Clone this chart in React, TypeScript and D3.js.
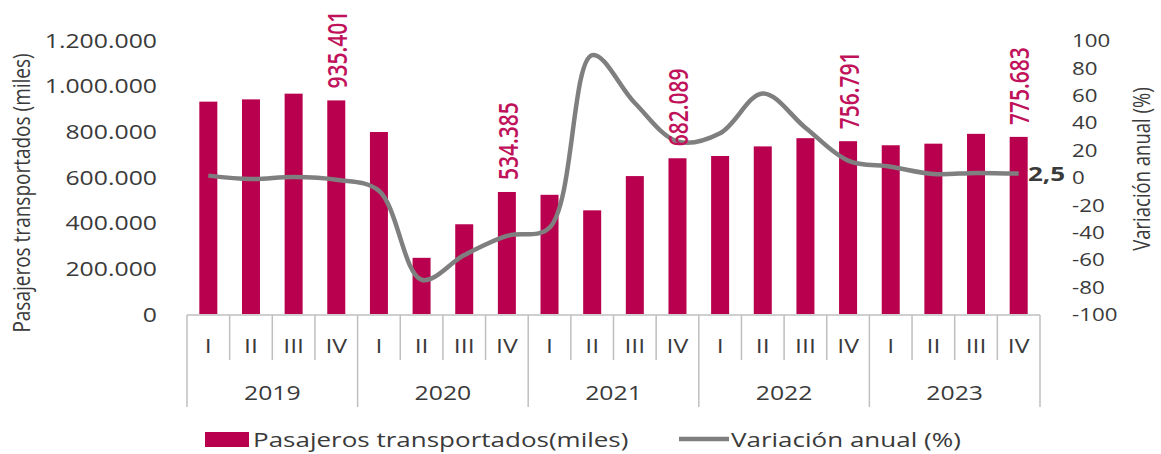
import * as d3 from "d3";
import React from "react";

const years = ["2019", "2020", "2021", "2022", "2023"];
const quarters = ["I", "II", "III", "IV"];
const pasajeros = [
  930000, 940000, 965000, 935401,
  797000, 246000, 393000, 534385,
  522000, 454000, 604000, 682089,
  692000, 734000, 770000, 756791,
  739000, 746000, 789000, 775683,
];
const variacion = [
  1, -1.5, 0, -2,
  -10, -75, -57, -43,
  -37, 89, 54, 26,
  32, 61, 36, 12,
  7.5, 2.2, 3, 2.5,
];
const labelled = [3, 7, 11, 15, 19];
const leftTicks = [0, 200000, 400000, 600000, 800000, 1000000, 1200000];
const rightTicks = [-100, -80, -60, -40, -20, 0, 20, 40, 60, 80, 100];

const BAR = "#B8004E";
const LABEL = "#C0125A";
const LINE = "#7F7F7F";
const TXT = "#3A3A3A";
const GRID = "#BFBFBF";
const FONT = "'Open Sans', sans-serif";
const SX = 1.24; // picture is stretched sideways

const fmt = (v: number) => d3.format(",")(v).replace(/,/g, ".");

const T: React.FC<{ x: number; y: number; size: number; anchor?: string; weight?: number; fill?: string; sc?: number; children: React.ReactNode }> = ({ x, y, size, anchor = "middle", weight = 400, fill = TXT, sc = SX, children }) => (
  <text
    transform={`translate(${x},${y}) scale(${sc},1)`}
    fontSize={size}
    fontFamily={FONT}
    fontWeight={weight}
    textAnchor={anchor}
    dominantBaseline="central"
    fill={fill}
  >
    {children}
  </text>
);

const V: React.FC<{ x: number; y: number; size: number; anchor?: string; weight?: number; fill?: string; sc?: number; children: React.ReactNode }> = ({ x, y, size, anchor = "middle", weight = 400, fill = TXT, sc = SX, children }) => (
  <text
    transform={`translate(${x},${y}) rotate(-90) scale(1,${sc})`}
    fontSize={size}
    fontFamily={FONT}
    fontWeight={weight}
    textAnchor={anchor}
    dominantBaseline="central"
    fill={fill}
  >
    {children}
  </text>
);

export default function App() {
  const width = 1161;
  const height = 454;
  const x0 = 187;
  const x1 = 1040;
  const axisY = 315;

  const idx = d3.range(pasajeros.length);
  const x = d3.scaleBand<number>().domain(idx).range([x0, x1]).padding(0);
  const yL = d3.scaleLinear().domain([0, 1200000]).range([314, 40]);
  const yR = d3.scaleLinear().domain([-100, 100]).range([314, 40]);
  const barW = 18;
  const cx = (i: number) => (x(i) as number) + x.bandwidth() / 2;

  const line = d3
    .line<number>()
    .x((_, i) => cx(i))
    .y((d) => yR(d))
    .curve(d3.curveCatmullRom.alpha(0.5));

  return (
    <svg width={width} height={height} style={{ position: "absolute", left: 0, top: 0 }}>
      <rect width={width} height={height} fill="#fff" />

      {leftTicks.map((t) => (
        <T key={t} x={157} y={yL(t)} size={20} anchor="end">{fmt(t)}</T>
      ))}
      {rightTicks.map((t) => (
        <T key={t} x={1072} y={yR(t)} size={18} anchor="start">{t}</T>
      ))}
      <V x={21} y={193} size={19}>Pasajeros transportados (miles)</V>
      <V x={1141} y={169} size={18.5}>Variación anual (%)</V>

      {pasajeros.map((v, i) => (
        <rect key={i} x={cx(i) - barW / 2} y={yL(v)} width={barW} height={yL(0) - yL(v)} fill={BAR} />
      ))}

      <path d={line(variacion) || ""} fill="none" stroke={LINE} strokeWidth={4.5} strokeLinejoin="round" />

      {labelled.map((i) => (
        <V key={i} x={cx(i)} y={yL(pasajeros[i]) - 12} size={21} anchor="start" weight={600} fill={LABEL} sc={1.32}>
          {fmt(pasajeros[i])}
        </V>
      ))}
      <T x={1028} y={yR(variacion[19])} size={20} anchor="start" weight={700} sc={1.3}>
        {String(variacion[19]).replace(".", ",")}
      </T>

      {/* category axis */}
      <line x1={x0} x2={x1} y1={axisY} y2={axisY} stroke={GRID} strokeWidth={1.5} />
      {d3.range(pasajeros.length + 1).map((i) => {
        const xx = i < pasajeros.length ? (x(i) as number) : x1;
        const major = i % 4 === 0;
        return <line key={i} x1={xx} x2={xx} y1={axisY} y2={major ? 407 : 360} stroke={GRID} strokeWidth={1.5} />;
      })}
      {idx.map((i) => (
        <T key={i} x={cx(i)} y={345} size={20}>{quarters[i % 4]}</T>
      ))}
      {years.map((yr, j) => (
        <T key={yr} x={((x(j * 4) as number) + (x(j * 4 + 3) as number) + x.bandwidth()) / 2} y={392} size={20}>{yr}</T>
      ))}

      {/* legend */}
      <rect x={205} y={432} width={44} height={15} fill={BAR} />
      <T x={253} y={439} size={20} anchor="start" sc={1.3}>Pasajeros transportados(miles)</T>
      <line x1={679} x2={729} y1={439} y2={439} stroke={LINE} strokeWidth={4.5} />
      <T x={731} y={439} size={20} anchor="start" sc={1.3}>Variación anual (%)</T>
    </svg>
  );
}
